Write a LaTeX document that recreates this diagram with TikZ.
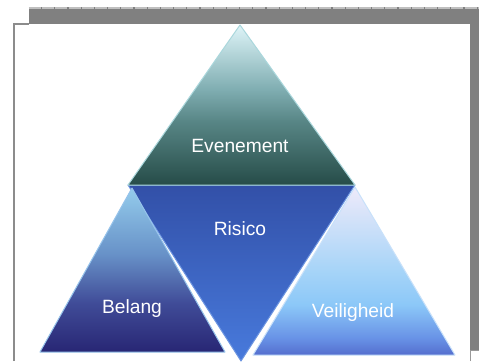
\documentclass[tikz,border=0pt]{standalone}
\usepackage{fontspec}
\setmainfont{Liberation Sans}
\definecolor{midT}{RGB}{50,80,168}
\definecolor{midB}{RGB}{72,122,220}
\definecolor{midE}{RGB}{110,150,225}
\definecolor{topE}{RGB}{170,215,220}
\definecolor{lefE}{RGB}{150,195,235}
\definecolor{rigE}{RGB}{200,225,250}
\pgfdeclareverticalshading{topsh}{100bp}{
  color(0bp)=(rgb,255:red,38;green,76;blue,72);
  color(25bp)=(rgb,255:red,38;green,76;blue,72);
  color(45bp)=(rgb,255:red,88;green,134;blue,134);
  color(55bp)=(rgb,255:red,128;green,174;blue,178);
  color(75bp)=(rgb,255:red,222;green,244;blue,248);
  color(100bp)=(rgb,255:red,222;green,244;blue,248)}
\pgfdeclareverticalshading{lefsh}{100bp}{
  color(0bp)=(rgb,255:red,40;green,38;blue,116);
  color(25bp)=(rgb,255:red,40;green,38;blue,116);
  color(40bp)=(rgb,255:red,64;green,76;blue,152);
  color(55bp)=(rgb,255:red,104;green,146;blue,200);
  color(75bp)=(rgb,255:red,148;green,204;blue,236);
  color(100bp)=(rgb,255:red,148;green,204;blue,236)}
\pgfdeclareverticalshading{rigsh}{100bp}{
  color(0bp)=(rgb,255:red,84;green,110;blue,206);
  color(25bp)=(rgb,255:red,84;green,110;blue,206);
  color(30bp)=(rgb,255:red,104;green,146;blue,230);
  color(40bp)=(rgb,255:red,140;green,200;blue,248);
  color(50bp)=(rgb,255:red,166;green,212;blue,248);
  color(75bp)=(rgb,255:red,238;green,234;blue,250);
  color(100bp)=(rgb,255:red,238;green,234;blue,250)}
\begin{document}
\begin{tikzpicture}[x=0.5pt,y=0.5pt,
  lbl/.style={text=white,font=\fontsize{9.6pt}{11pt}\selectfont,inner sep=0pt},
  edge/.style={line width=0.5pt,line join=round}]
\useasboundingbox (0,0) rectangle (479,361);
\fill[white] (0,0) rectangle (479,361);
% grey backdrop
\fill[black!50] (29,11) rectangle (479,354);
\draw[black!25,line width=0.8pt,dash pattern=on 6pt off 0.6pt] (29,353) -- (479,353);
% white page
\fill[white] (13,0) rectangle (470,337);
\draw[black!45,line width=0.9pt] (14,0) -- (14,337) -- (29,337);
\draw[black!40,line width=0.5pt] (470.5,0) -- (470.5,10.5) -- (479,10.5);
% triangles
\coordinate (tA) at (240,336);
\coordinate (tL) at (128,176);
\coordinate (tR) at (355,176);
\coordinate (mB) at (241,0);
\coordinate (lA) at (132,173);
\coordinate (lL) at (40,9);
\coordinate (lR) at (225,9);
\coordinate (rA) at (355,174);
\coordinate (rL) at (253,6);
\coordinate (rR) at (455,6);
% inverted middle triangle
\shade[top color=midT,bottom color=midB] (tL) -- (tR) -- (mB) -- cycle;
\draw[edge,midE] (tL) -- (tR) -- (mB) -- cycle;
% top triangle
\shade[shading=topsh] (tA) -- (tR) -- (tL) -- cycle;
\draw[edge,topE] (tA) -- (tR) -- (tL) -- cycle;
% left triangle
\shade[shading=lefsh] (lA) -- (lR) -- (lL) -- cycle;
\draw[edge,lefE] (lA) -- (lR) -- (lL) -- cycle;
% right triangle
\shade[shading=rigsh] (rA) -- (rR) -- (rL) -- cycle;
\draw[edge,rigE] (rA) -- (rR) -- (rL) -- cycle;
% labels
\node[lbl] (ev) at (240,215) {Evenement};
\node[lbl] (ri) at (240,132) {Risico};
\node[lbl] (be) at (132,52) {Belang};
\node[lbl] (ve) at (353,48) {Veiligheid};
\end{tikzpicture}
\end{document}
